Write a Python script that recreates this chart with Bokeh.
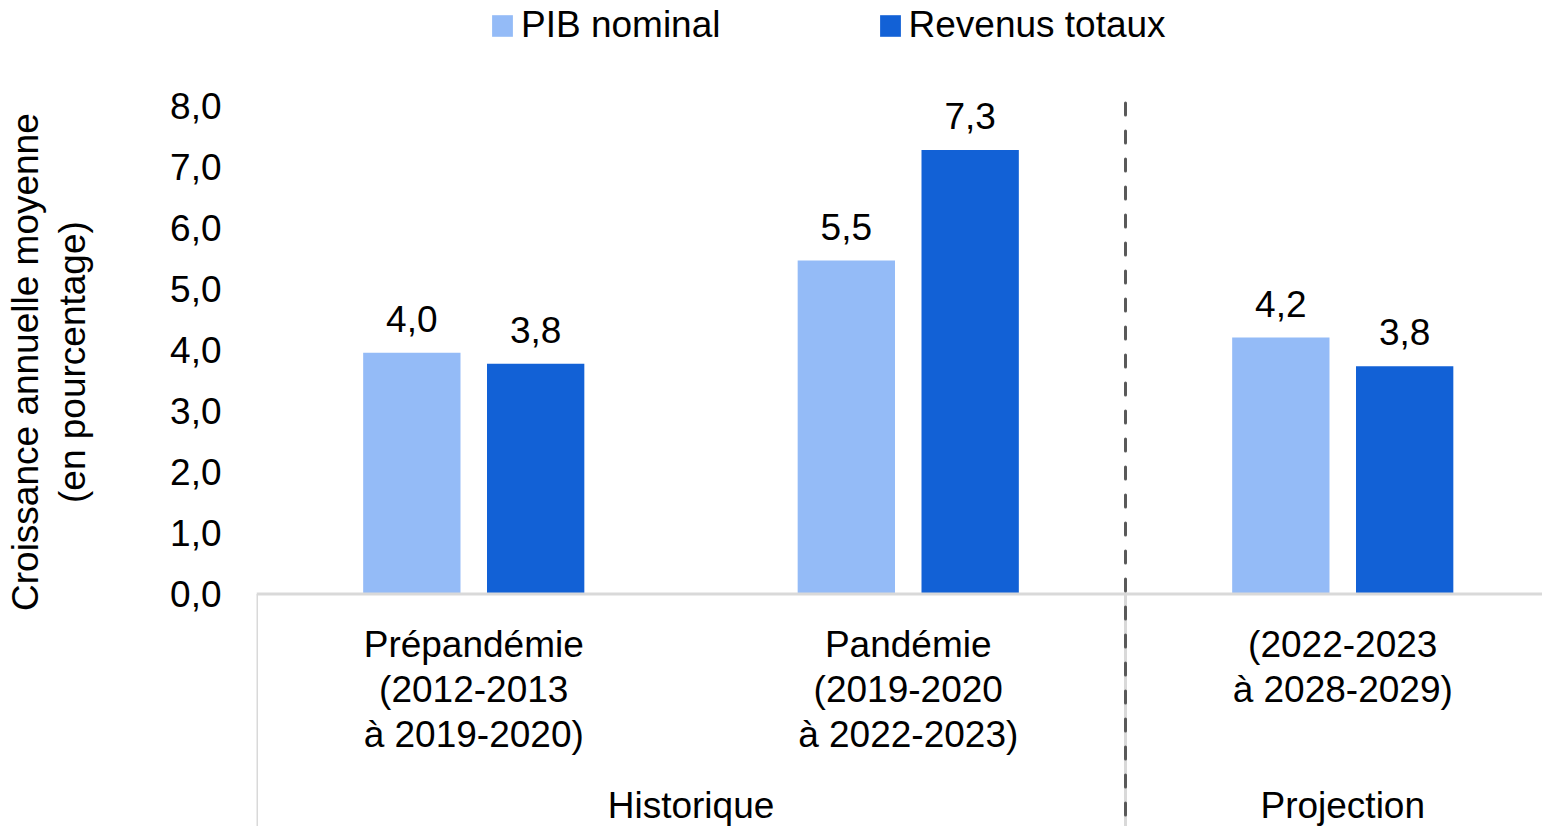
from bokeh.plotting import figure
from bokeh.models import ColumnDataSource, FixedTicker, Legend, LegendItem, Range1d
from bokeh.core.properties import value
from bokeh.embed import file_html
from bokeh.resources import INLINE

# ---------------- data ----------------
categories = ["Prépandémie\n(2012-2013\nà 2019-2020)",
              "Pandémie\n(2019-2020\nà 2022-2023)",
              "(2022-2023\nà 2028-2029)"]
groups = ["Historique", "Projection"]
group_members = [[0, 1], [2]]
series_names = ["PIB nominal", "Revenus totaux"]
pib = [3.95, 5.46, 4.20]
revenus = [3.77, 7.27, 3.73]
pib_labels = ["4,0", "5,5", "4,2"]
revenus_labels = ["3,8", "7,3", "3,8"]
y_ticks = [0, 1, 2, 3, 4, 5, 6, 7, 8]
y_tick_labels = ["0,0", "1,0", "2,0", "3,0", "4,0", "5,0", "6,0", "7,0", "8,0"]
y_title_lines = ["Croissance annuelle moyenne", "(en pourcentage)"]

# ---------------- style ----------------
FONT = "Liberation Sans"
FS = "37px"
C_LIGHT = "#94BBF7"
C_DARK = "#1261D6"
GREY = "#D9D9D9"
DASH = "#595959"

W, H = 1542, 826
LEFT = 256
PX_PER_Y = 61.06
ZERO_FROM_BOTTOM = 232.5
PX_PER_X = 434.5
FRAME_W = W - LEFT

y0 = -ZERO_FROM_BOTTOM / PX_PER_Y
y1 = (H - ZERO_FROM_BOTTOM) / PX_PER_Y
x_end = FRAME_W / PX_PER_X

p = figure(width=W, height=H, output_backend="svg", toolbar_location=None,
           x_range=Range1d(0, x_end), y_range=Range1d(y0, y1),
           x_axis_location=None, min_border_left=LEFT, min_border_right=0,
           min_border_top=0, min_border_bottom=0)
p.outline_line_color = None
p.xgrid.visible = False
p.ygrid.visible = False
p.background_fill_color = "white"
p.border_fill_color = "white"

# y axis
ax = p.yaxis[0]
ax.ticker = FixedTicker(ticks=y_ticks)
ax.major_label_overrides = {t: l for t, l in zip(y_ticks, y_tick_labels)}
ax.axis_line_color = None
ax.major_tick_line_color = None
ax.minor_tick_line_color = None
ax.major_tick_out = 0
ax.major_tick_in = 0
ax.minor_tick_out = 0
ax.major_label_standoff = 35
ax.major_label_text_font = FONT
ax.major_label_text_font_size = FS
ax.major_label_text_color = "black"
# the label is centred on the frame; leading no-break spaces move it up to
# sit centred on the 0-8 value scale as in the reference
pad = "\u00a0" * 10
ax.axis_label = "\n".join(pad + t for t in y_title_lines)
ax.axis_label_text_font = FONT
ax.axis_label_text_font_size = FS
ax.axis_label_text_font_style = "normal"
ax.axis_label_text_color = "black"
ax.axis_label_text_line_height = 1.15
ax.axis_label_standoff = 74

# bars
off = 0.1425
bw = 0.224
centers = [i + 0.5 for i in range(len(categories))]
src_a = ColumnDataSource(dict(x=[c - off for c in centers], top=pib, lab=pib_labels))
src_b = ColumnDataSource(dict(x=[c + off for c in centers], top=revenus, lab=revenus_labels))
ra = p.vbar(x="x", top="top", bottom=0, width=bw, source=src_a, fill_color=C_LIGHT, line_color=None)
rb = p.vbar(x="x", top="top", bottom=0, width=bw, source=src_b, fill_color=C_DARK, line_color=None)

TXT_FIX = -13.5
for s in (src_a, src_b):
    p.text(x="x", y="top", text="lab", source=s, text_align="center", text_baseline="alphabetic",
           y_offset=-20.5 + TXT_FIX, text_font=value(FONT), text_font_size=FS, text_color="black")

# axis lines
p.segment(x0=[0], y0=[0], x1=[x_end], y1=[0], line_color=GREY, line_width=3)
boundaries = [0]
acc = 0
for g in group_members:
    acc += len(g)
    boundaries.append(acc)
vb = [b for b in boundaries if b < x_end]
p.segment(x0=vb, y0=[0] * len(vb), x1=vb, y1=[y0] * len(vb), line_color=GREY, line_width=3)
seps = boundaries[1:-1]
p.segment(x0=seps, y0=[8.04] * len(seps), x1=seps, y1=[y0] * len(seps), line_color=DASH,
          line_width=3, line_dash="12 16", line_cap="round")

# category labels (multi-line)
split = [c.split("\n") for c in categories]
maxl = max(len(s) for s in split)
for li in range(maxl):
    xs = [centers[i] for i, s in enumerate(split) if len(s) > li]
    ts = [s[li] for s in split if len(s) > li]
    p.text(x=xs, y=[0] * len(xs), text=ts, text_align="center", text_baseline="alphabetic",
           y_offset=64 + 45 * li + TXT_FIX, text_font=value(FONT), text_font_size=FS, text_color="black")

# group labels
gx = [sum(centers[i] for i in g) / len(g) for g in group_members]
p.text(x=gx, y=[0] * len(gx), text=groups, text_align="center", text_baseline="alphabetic",
       y_offset=225 + TXT_FIX, text_font=value(FONT), text_font_size=FS, text_color="black")

# legend
legend = Legend(items=[LegendItem(label=series_names[0], renderers=[ra]),
                       LegendItem(label=series_names[1], renderers=[rb])],
                orientation="horizontal", location=(233, 780), glyph_width=26, glyph_height=27,
                label_standoff=6, spacing=156, padding=0, margin=0,
                label_text_font=FONT, label_text_font_size=FS, label_text_color="black",
                background_fill_alpha=0, border_line_alpha=0)
p.add_layout(legend, "center")

open("out.html", "w").write(file_html(p, INLINE))
